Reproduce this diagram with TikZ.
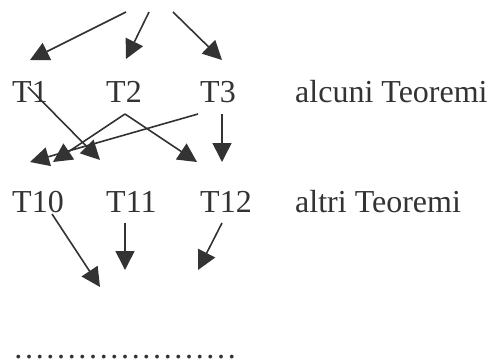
\documentclass[tikz,border=0pt]{standalone}
\usepackage{fontspec}
\setmainfont{Liberation Serif}
\usetikzlibrary{arrows.meta}
\definecolor{ink}{HTML}{333333}
\begin{document}
\begin{tikzpicture}[x=1pt,y=-1pt,
  lbl/.style={anchor=base west,inner sep=0pt,text=ink,font=\fontsize{32}{38}\selectfont},
  arr/.style={draw=ink,line width=1.6pt,-{Triangle[length=19pt,width=19pt]},fill=ink}]
\useasboundingbox (0,0) rectangle (492,359);
% labels
\node[lbl] (t1) at (12,102) {T1};
\node[lbl] (t2) at (106,102) {T2};
\node[lbl] (t3) at (200,102) {T3};
\node[lbl] (alc) at (295,102) {alcuni Teoremi};
\node[lbl] (t10) at (12,212) {T10};
\node[lbl] (t11) at (106,212) {T11};
\node[lbl] (t12) at (200,212) {T12};
\node[lbl] (alt) at (295,212) {altri Teoremi};
\node[lbl,text depth=0pt,text height=4pt] (dots) at (13,358) {\char"2026\char"2026\char"2026\char"2026\char"2026\char"2026\char"2026};
% coordinates
\coordinate (s1) at (126,12); \coordinate (e1) at (30,60);
\coordinate (s2) at (149,12); \coordinate (e2) at (126,59);
\coordinate (s3) at (173,12); \coordinate (e3) at (222,60);
\coordinate (b1s) at (28,87); \coordinate (b1e) at (100,160);
\coordinate (pk) at (125,114); \coordinate (b2l) at (53,162); \coordinate (b2r) at (197,162);
\coordinate (b3s) at (198,114); \coordinate (b3e) at (30,162);
\coordinate (b4s) at (222,114); \coordinate (b4e) at (222,162);
\coordinate (c1s) at (52,214); \coordinate (c1e) at (100,287);
\coordinate (c2s) at (125,223); \coordinate (c2e) at (125,270);
\coordinate (c3s) at (222,223); \coordinate (c3e) at (198,270);
% arrows
\draw[arr] (s1) -- (e1);
\draw[arr] (s2) -- (e2);
\draw[arr] (s3) -- (e3);
\draw[arr] (b1s) -- (b1e);
\draw[arr] (pk) -- (b2l);
\draw[arr] (pk) -- (b2r);
\draw[arr] (b3s) -- (b3e);
\draw[arr] (b4s) -- (b4e);
\draw[arr] (c1s) -- (c1e);
\draw[arr] (c2s) -- (c2e);
\draw[arr] (c3s) -- (c3e);
\end{tikzpicture}
\end{document}
